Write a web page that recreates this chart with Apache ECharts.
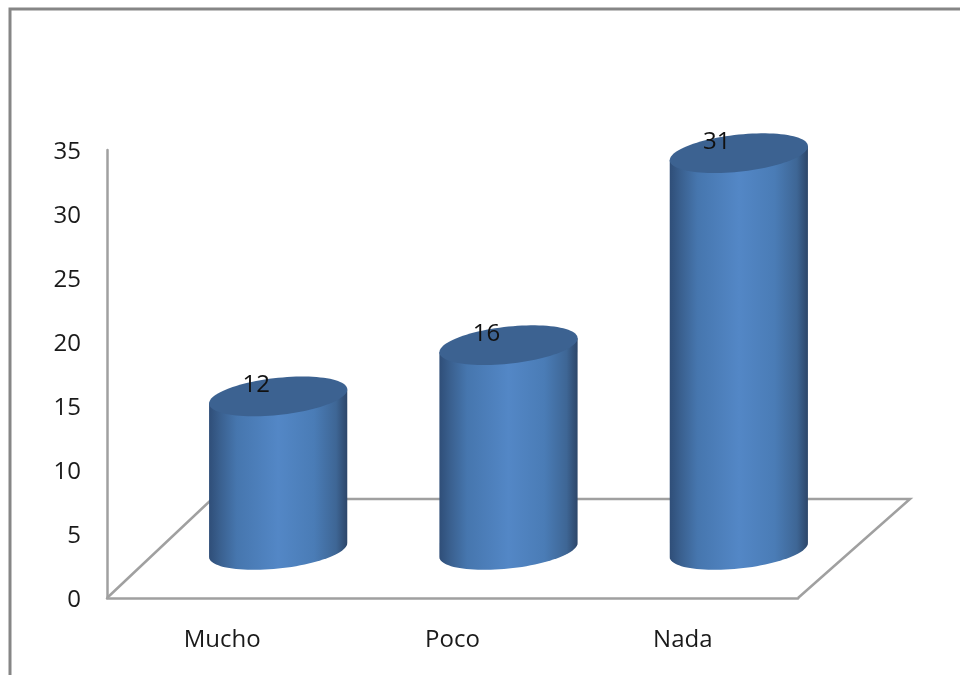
<!DOCTYPE html>
<html>
<head>
<meta charset="utf-8">
<style>html,body{margin:0;padding:0;background:#fff}#c{width:960px;height:675px}</style>
<script src="https://cdn.jsdelivr.net/npm/echarts@6/dist/echarts.min.js"></script>
</head>
<body>
<div id="c"></div>
<script>
const categories = ['Mucho', 'Poco', 'Nada'];
const values = [12, 16, 31];
const axisMin = 0, axisMax = 35, axisStep = 5;

const FONT = '"Open Sans", sans-serif';
const chart = echarts.init(document.getElementById('c'), null, {renderer: 'canvas'});

function arc(cx, cy, a, b, s, from, to, n) {
  const pts = [];
  for (let i = 0; i <= n; i++) {
    const t = from + (to - from) * i / n;
    pts.push([cx + a * Math.cos(t), cy + b * Math.sin(t) - s * Math.cos(t)]);
  }
  return pts;
}

function renderCylinder(params, api) {
  const band = api.coord([api.value(0), 0]);
  const top = api.coord([api.value(0), api.value(1)]);
  const bandW = api.size([1, 0])[0];
  const cx = band[0] + 56;
  const depth = 48;
  const baseY = band[1] - depth;
  const topY = top[1] - depth;
  const a = bandW * 0.3, b = 18.6, s = 7;
  const front = arc(cx, baseY, a, b, s, 0, Math.PI, 48);
  const body = [[cx + a, topY - s]].concat(front, [[cx - a, topY + s]]);
  const gradient = new echarts.graphic.LinearGradient(0, 0, 1, 0, [
    {offset: 0, color: '#2f4e78'},
    {offset: 0.08, color: '#3a608f'},
    {offset: 0.2, color: '#4676ae'},
    {offset: 0.5, color: '#5387c6'},
    {offset: 0.76, color: '#4a7cb6'},
    {offset: 0.92, color: '#3e6695'},
    {offset: 1, color: '#2d4669'}
  ]);
  return {
    type: 'group',
    children: [
      {type: 'polygon', shape: {points: body}, style: {fill: gradient}},
      {type: 'polygon', shape: {points: arc(cx, topY, a, b, s, 0, Math.PI * 2, 96)},
        style: {fill: '#3c6291'}},
      {type: 'text', x: cx - 22, y: topY - 11,
        style: {text: String(api.value(1)), font: '24px ' + FONT, fill: '#111',
          align: 'center', verticalAlign: 'middle'}}
    ]
  };
}

chart.setOption({
  animation: false,
  backgroundColor: '#ffffff',
  grid: {left: 107, top: 150, width: 691, height: 448, containLabel: false},
  xAxis: {
    type: 'category',
    data: categories,
    axisLine: {show: true, lineStyle: {color: '#a0a0a0', width: 2.5}},
    axisTick: {show: false},
    axisLabel: {color: '#1a1a1a', fontFamily: FONT, fontSize: 24, margin: 30}
  },
  yAxis: {
    type: 'value',
    min: axisMin, max: axisMax, interval: axisStep,
    splitLine: {show: false},
    axisLine: {show: true, lineStyle: {color: '#a0a0a0', width: 2.5}},
    axisTick: {show: false},
    axisLabel: {color: '#1a1a1a', fontFamily: FONT, fontSize: 24, margin: 26, verticalAlign: 'top', lineHeight: 4}
  },
  graphic: [
    {type: 'polyline', silent: true, z: 0,
      shape: {points: [[10, 676], [10, 9], [961, 9]]},
      style: {stroke: '#868686', lineWidth: 3, fill: 'none'}},
    {type: 'polyline', silent: true, z: 0,
      shape: {points: [[107, 598], [212, 499], [910, 499], [798, 598]]},
      style: {stroke: '#a0a0a0', lineWidth: 2.5, fill: 'none'}}
  ],
  series: [{
    type: 'custom',
    renderItem: renderCylinder,
    encode: {x: 0, y: 1},
    clip: false,
    data: categories.map((c, i) => [i, values[i]])
  }]
});
</script>
</body>
</html>
